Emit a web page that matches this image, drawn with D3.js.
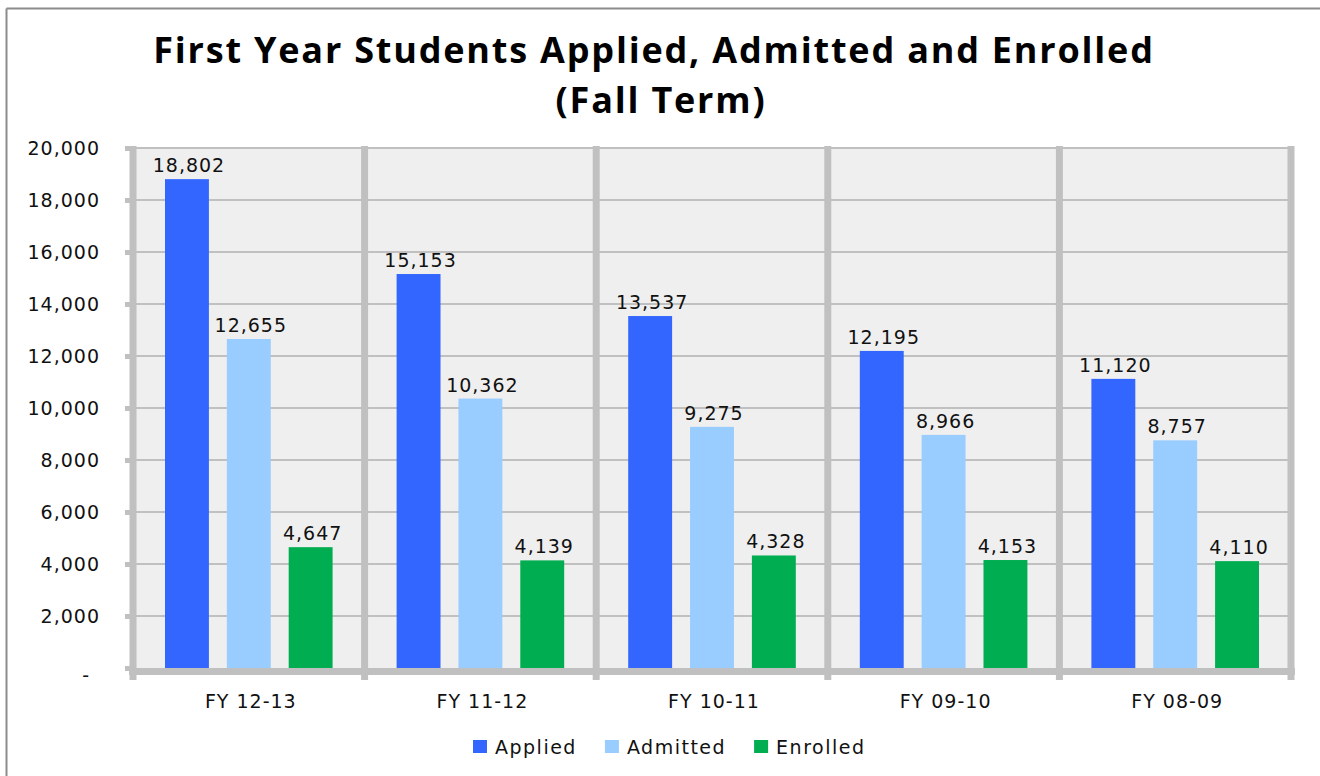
<!DOCTYPE html>
<html lang="en">
  <head>
    <meta charset="utf-8">
    <title>First Year Students Applied, Admitted and Enrolled</title>
    <script src="https://cdn.jsdelivr.net/npm/d3@7/dist/d3.min.js"></script>
    <style>
      body { margin: 0; background: #fff; overflow: hidden; }
      .val, .tickLbl, .catLbl, .legLbl {
        font-family: "DejaVu Sans", sans-serif;
        font-size: 19px;
        letter-spacing: 1px;
        fill: #111;
      }
      .legLbl { letter-spacing: 1.5px; }
      .title {
        font-family: "Open Sans", sans-serif;
        font-weight: bold;
        font-size: 36px;
        letter-spacing: 1.8px;
        fill: #000;
      }
    </style>
  </head>
  <body>
    <div id="chartDiv"></div>
    <script>
      var categories = ["FY 12-13", "FY 11-12", "FY 10-11", "FY 09-10", "FY 08-09"];
      var seriesNames = ["Applied", "Admitted", "Enrolled"];
      var applied  = [18802, 15153, 13537, 12195, 11120];
      var admitted = [12655, 10362, 9275, 8966, 8757];
      var enrolled = [4647, 4139, 4328, 4153, 4110];
      var yTicks = [0, 2000, 4000, 6000, 8000, 10000, 12000, 14000, 16000, 18000, 20000];
      var colors = ["#3366FF", "#99CCFF", "#00AD50"];

      var seriesValues = [applied, admitted, enrolled];

      var chartWd = 1320, chartHt = 776;
      var plotLeft = 133, plotRight = 1291, plotTop = 148, plotBottom = 668;
      var gridCol = "#C0C0C0";

      var svg = d3.select("#chartDiv").append("svg")
          .attr("width", chartWd)
          .attr("height", chartHt)
          .style("display", "block");

      // outer frame (only top and left edges are in view)
      svg.append("line")
         .attr("x1", 6.5).attr("x2", chartWd)
         .attr("y1", 8.5).attr("y2", 8.5)
         .attr("stroke", "#8C8C8C").attr("stroke-width", 2);
      svg.append("line")
         .attr("x1", 6.5).attr("x2", 6.5)
         .attr("y1", 8.5).attr("y2", chartHt)
         .attr("stroke", "#8C8C8C").attr("stroke-width", 2);

      // title
      svg.append("text").attr("class", "title")
         .attr("x", 654).attr("y", 63)
         .attr("text-anchor", "middle")
         .text("First Year Students Applied, Admitted and Enrolled");
      svg.append("text").attr("class", "title")
         .attr("x", 661).attr("y", 113)
         .attr("text-anchor", "middle")
         .text("(Fall Term)");

      var x0 = d3.scaleBand()
                 .domain(categories)
                 .range([plotLeft, plotRight]);

      var x1 = d3.scaleBand()
                 .domain(seriesNames)
                 .range([32, x0.bandwidth() - 32])
                 .paddingInner(0.29);

      var yScale = d3.scaleLinear()
                     .domain([0, 20000])
                     .range([plotBottom, plotTop]);

      // plot background
      svg.append("rect")
         .attr("x", plotLeft).attr("y", plotTop)
         .attr("width", plotRight - plotLeft)
         .attr("height", plotBottom - plotTop)
         .attr("fill", "#EFEFEF");

      // gridlines
      svg.selectAll("line.grid")
         .data(yTicks.slice(1))
         .enter()
         .append("line")
         .attr("class", "grid")
         .attr("x1", plotLeft).attr("x2", plotRight)
         .attr("y1", function(d) { return yScale(d); })
         .attr("y2", function(d) { return yScale(d); })
         .attr("stroke", gridCol)
         .attr("stroke-width", 2);

      // y axis with stubby ticks
      var yAxis = d3.axisLeft(yScale)
                    .tickValues(yTicks)
                    .tickSizeInner(8)
                    .tickSizeOuter(0)
                    .tickPadding(25)
                    .tickFormat(function(d) { return d === 0 ? "-" : d3.format(",")(d); });

      var yG = svg.append("g")
         .attr("transform", "translate(" + plotLeft + ",0)")
         .call(yAxis);
      yG.select(".domain").remove();
      yG.selectAll(".tick line")
        .attr("stroke", gridCol)
        .attr("stroke-width", 5);
      yG.selectAll(".tick text")
        .attr("class", "tickLbl")
        .attr("font-size", null)
        .attr("font-family", null)
        .attr("fill", null);
      yG.selectAll(".tick")
        .filter(function(d) { return d === 0; })
        .select("text")
        .attr("dx", -10)
        .attr("dy", "0.7em");

      // bars
      var groups = svg.selectAll("g.cat")
         .data(categories)
         .enter()
         .append("g")
         .attr("class", "cat")
         .attr("transform", function(d) { return "translate(" + x0(d) + ",0)"; });

      groups.selectAll("rect")
         .data(function(d, i) {
           return seriesNames.map(function(s, j) {
             return {series: s, value: seriesValues[j][i], color: colors[j]};
           });
         })
         .enter()
         .append("rect")
         .attr("x", function(d) { return x1(d.series); })
         .attr("width", x1.bandwidth())
         .attr("y", function(d) { return yScale(d.value); })
         .attr("height", function(d) { return plotBottom - yScale(d.value); })
         .attr("fill", function(d) { return d.color; });

      groups.selectAll("text.val")
         .data(function(d, i) {
           return seriesNames.map(function(s, j) {
             return {series: s, value: seriesValues[j][i]};
           });
         })
         .enter()
         .append("text")
         .attr("class", "val")
         .attr("text-anchor", "middle")
         .attr("x", function(d) { return x1(d.series) + x1.bandwidth() / 2 + 2; })
         .attr("y", function(d) { return yScale(d.value) - 7; })
         .text(function(d) { return d3.format(",")(d.value); });

      // top edge
      svg.append("line")
         .attr("x1", plotLeft).attr("x2", plotRight)
         .attr("y1", plotTop).attr("y2", plotTop)
         .attr("stroke", gridCol).attr("stroke-width", 2);

      // vertical separators (category boundaries, incl. left axis)
      var seps = categories.map(function(c) { return x0(c); }).concat([plotRight]);
      svg.selectAll("line.sep")
         .data(seps)
         .enter()
         .append("line")
         .attr("class", "sep")
         .attr("x1", function(d) { return d; })
         .attr("x2", function(d) { return d; })
         .attr("y1", plotTop - 2)
         .attr("y2", plotBottom + 12)
         .attr("stroke", gridCol)
         .attr("stroke-width", 7);

      // x axis line
      svg.append("line")
         .attr("x1", plotLeft - 4).attr("x2", plotRight + 4)
         .attr("y1", plotBottom + 3.5).attr("y2", plotBottom + 3.5)
         .attr("stroke", gridCol)
         .attr("stroke-width", 7);

      // category labels
      svg.selectAll("text.catLbl")
         .data(categories)
         .enter()
         .append("text")
         .attr("class", "catLbl")
         .attr("text-anchor", "middle")
         .attr("x", function(d) { return x0(d) + x0.bandwidth() / 2 + 2; })
         .attr("y", 708)
         .text(function(d) { return d; });

      // legend
      var legend = svg.append("g").attr("transform", "translate(473,740)");
      var lx = 0;
      seriesNames.forEach(function(s, i) {
        var item = legend.append("g").attr("transform", "translate(" + lx + ",0)");
        item.append("rect")
            .attr("width", 14).attr("height", 13)
            .attr("fill", colors[i]);
        var t = item.append("text")
            .attr("class", "legLbl")
            .attr("x", 22).attr("y", 14)
            .text(s);
        lx += 22 + t.node().getComputedTextLength() + 28;
      });
    </script>
  </body>
</html>
